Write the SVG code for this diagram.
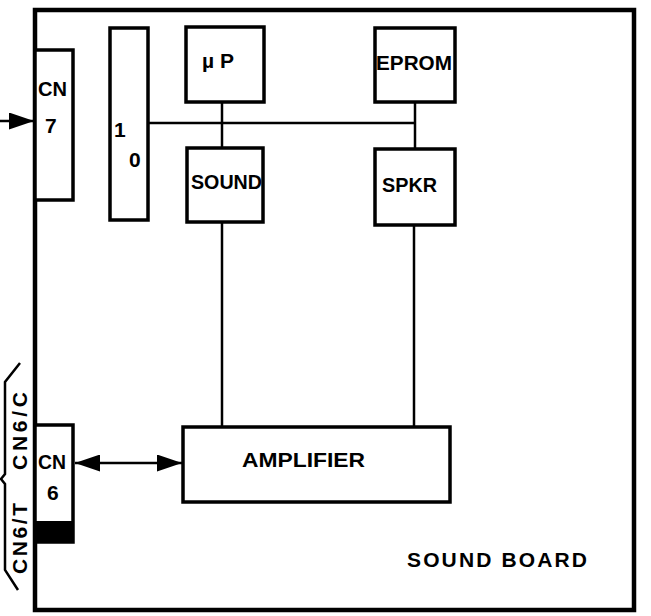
<svg xmlns="http://www.w3.org/2000/svg" width="651" height="616" viewBox="0 0 651 616">
<style>
.box{fill:#fff;stroke:#000;stroke-width:3.5}
.board{fill:none;stroke:#000;stroke-width:4.5}
.ln{stroke:#000;stroke-width:2.5;fill:none}
.t{font-family:"Liberation Sans",Arial,sans-serif;font-weight:bold;font-size:21px;fill:#000}
</style>
<defs>
<marker id="ah2" viewBox="0 0 10 10" refX="10" refY="5" markerWidth="25" markerHeight="17" markerUnits="userSpaceOnUse" orient="auto-start-reverse" preserveAspectRatio="none">
<path d="M0,0 L10,5 L0,10 z" fill="#000"/>
</marker>
</defs>
<rect width="651" height="616" fill="#fff"/>
<g id="board">
<rect class="board" x="35" y="10" width="599" height="600"/>
<text class="t" x="407" y="567" font-size="20" textLength="180" lengthAdjust="spacing">SOUND BOARD</text>
</g>
<g id="connectors">
<line class="ln" x1="148" y1="123" x2="415" y2="123"/>
<line class="ln" x1="222" y1="102" x2="222" y2="148"/>
<line class="ln" x1="415" y1="102" x2="415" y2="148"/>
<line class="ln" x1="222" y1="222" x2="222" y2="426"/>
<line class="ln" x1="414" y1="225" x2="414" y2="426"/>
<line class="ln" x1="0" y1="121" x2="34" y2="121" marker-end="url(#ah2)"/>
<line class="ln" x1="75" y1="463" x2="182" y2="463" marker-start="url(#ah2)" marker-end="url(#ah2)"/>
</g>
<g id="cn7">
<rect class="box" x="35" y="50" width="38" height="150"/>
<text class="t" x="38" y="96" font-size="21" textLength="29" lengthAdjust="spacingAndGlyphs">CN</text>
<text class="t" x="45" y="133" font-size="21">7</text>
</g>
<g id="io">
<rect class="box" x="110" y="28" width="38" height="192"/>
<text class="t" x="114" y="137" font-size="22">1</text>
<text class="t" x="129" y="167" font-size="22">0</text>
</g>
<g id="up">
<rect class="box" x="186" y="27" width="78" height="75"/>
<text class="t" x="202" y="68" font-size="22">µ P</text>
</g>
<g id="eprom">
<rect class="box" x="375" y="28" width="80" height="74"/>
<text class="t" x="376" y="70" font-size="22" textLength="76" lengthAdjust="spacingAndGlyphs">EPROM</text>
</g>
<g id="sound">
<rect class="box" x="187" y="148" width="76" height="74"/>
<text class="t" x="191" y="189" font-size="22" textLength="71" lengthAdjust="spacingAndGlyphs">SOUND</text>
</g>
<g id="spkr">
<rect class="box" x="375" y="149" width="80" height="76"/>
<text class="t" x="382" y="192" font-size="22" textLength="55" lengthAdjust="spacingAndGlyphs">SPKR</text>
</g>
<g id="amplifier">
<rect class="box" x="183" y="427" width="267" height="75"/>
<text class="t" x="242" y="467" font-size="20" textLength="123" lengthAdjust="spacingAndGlyphs">AMPLIFIER</text>
</g>
<g id="cn6">
<rect class="box" x="35" y="425" width="38" height="117"/>
<rect x="35" y="521" width="39" height="21" fill="#000"/>
<text class="t" x="38" y="469" font-size="21" textLength="28" lengthAdjust="spacingAndGlyphs">CN</text>
<text class="t" x="47" y="500" font-size="21">6</text>
</g>
<g id="cn6-labels">
<path class="ln" d="M20,363 L5,382 L5,474 L1,479 L5,484 L5,570 L18,590" stroke-width="2"/>
<text class="t" transform="translate(27,470) rotate(-90)" font-size="24" textLength="78" lengthAdjust="spacing">CN6/C</text>
<text class="t" transform="translate(27,574) rotate(-90)" font-size="24" textLength="71" lengthAdjust="spacing">CN6/T</text>
</g>
</svg>
